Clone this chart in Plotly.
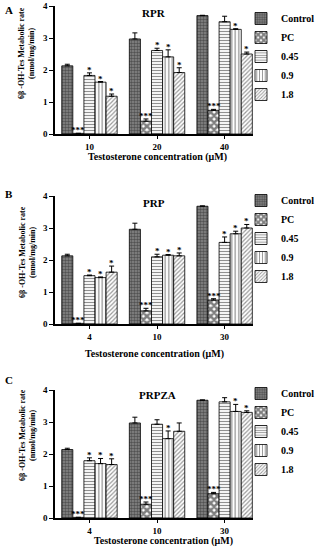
import plotly.graph_objects as go

# ---------------- data ----------------
series_names = ["Control", "PC", "0.45", "0.9", "1.8"]
panel_letters = ["A", "B", "C"]
panel_titles = ["RPR", "PRP", "PRPZA"]
conc_A = ["10", "20", "40"]
conc_B = ["4", "10", "30"]
conc_C = ["4", "10", "30"]

# Panel A (RPR)
A_control = [2.13, 2.97, 3.70]
A_pc = [0.02, 0.40, 0.74]
A_045 = [1.83, 2.61, 3.51]
A_09 = [1.62, 2.41, 3.27]
A_18 = [1.18, 1.92, 2.50]
A_control_err = [0.05, 0.19, 0.01]
A_pc_err = [0.00, 0.07, 0.03]
A_045_err = [0.08, 0.07, 0.17]
A_09_err = [0.02, 0.22, 0.02]
A_18_err = [0.07, 0.15, 0.06]
A_sig_control = ["", "", ""]
A_sig_pc = ["***", "***", "***"]
A_sig_045 = ["*", "*", ""]
A_sig_09 = ["*", "*", "*"]
A_sig_18 = ["*", "*", "*"]

# Panel B (PRP)
B_control = [2.13, 2.96, 3.68]
B_pc = [0.02, 0.41, 0.75]
B_045 = [1.51, 2.10, 2.55]
B_09 = [1.45, 2.15, 2.82]
B_18 = [1.62, 2.13, 3.00]
B_control_err = [0.05, 0.19, 0.01]
B_pc_err = [0.00, 0.08, 0.04]
B_045_err = [0.02, 0.08, 0.17]
B_09_err = [0.02, 0.02, 0.08]
B_18_err = [0.19, 0.09, 0.11]
B_sig_control = ["", "", ""]
B_sig_pc = ["***", "***", "***"]
B_sig_045 = ["*", "*", "*"]
B_sig_09 = ["*", "*", "*"]
B_sig_18 = ["*", "*", "*"]

# Panel C (PRPZA)
C_control = [2.14, 2.97, 3.68]
C_pc = [0.02, 0.43, 0.76]
C_045 = [1.79, 2.93, 3.63]
C_09 = [1.70, 2.48, 3.33]
C_18 = [1.67, 2.71, 3.30]
C_control_err = [0.04, 0.18, 0.01]
C_pc_err = [0.00, 0.07, 0.04]
C_045_err = [0.09, 0.14, 0.13]
C_09_err = [0.16, 0.24, 0.22]
C_18_err = [0.18, 0.26, 0.05]
C_sig_control = ["", "", ""]
C_sig_pc = ["***", "***", "***"]
C_sig_045 = ["*", "", ""]
C_sig_09 = ["*", "*", "*"]
C_sig_18 = ["*", "", "*"]

y_ticks = [0, 1, 2, 3, 4]
y_title = "6β -OH-Tes Metabolic rate<br>(nmol/mg/min)"
x_title = "Testosterone concentration (μM)"

panels = [
    dict(conc=conc_A,
         vals=[A_control, A_pc, A_045, A_09, A_18],
         errs=[A_control_err, A_pc_err, A_045_err, A_09_err, A_18_err],
         sigs=[A_sig_control, A_sig_pc, A_sig_045, A_sig_09, A_sig_18]),
    dict(conc=conc_B,
         vals=[B_control, B_pc, B_045, B_09, B_18],
         errs=[B_control_err, B_pc_err, B_045_err, B_09_err, B_18_err],
         sigs=[B_sig_control, B_sig_pc, B_sig_045, B_sig_09, B_sig_18]),
    dict(conc=conc_C,
         vals=[C_control, C_pc, C_045, C_09, C_18],
         errs=[C_control_err, C_pc_err, C_045_err, C_09_err, C_18_err],
         sigs=[C_sig_control, C_sig_pc, C_sig_045, C_sig_09, C_sig_18]),
]

# ---------------- styling / layout ----------------
W, H = 320, 550
FONT = "Liberation Serif"
plot_left, plot_right = 55, 253
panel_px = [(6, 134), (196, 324), (390, 518)]          # (top of y=4, y=0) in px
ytitle_center = [53, 252, 435]
xtitle_center = [(157, 157), (154, 354), (163, 541)]
title_center = [(154, 13), (154, 203), (157, 395)]
letter_pos = [(9, 10), (9, 194), (9, 380)]
legend_top = [4, 186, 379]
BARGAP = 0.18
XRANGE = [-0.51, 2.42]

patterns = [
    dict(shape=".", fgcolor="#1a1a1a", bgcolor="#8a8a8a", size=3, solidity=0.55),
    dict(shape="x", fgcolor="black", bgcolor="white", size=5, solidity=0.75),
    dict(shape="-", fgcolor="#222", bgcolor="white", size=3, solidity=0.4),
    dict(shape="|", fgcolor="#222", bgcolor="white", size=3.5, solidity=0.35),
    dict(shape="/", fgcolor="#333", bgcolor="white", size=3, solidity=0.4),
]

def py(px):
    return 1 - px / H

fig = go.Figure()
annotations = []
nser = len(series_names)
bar_w = (1 - BARGAP) / nser

for p, panel in enumerate(panels):
    sfx = "" if p == 0 else str(p + 1)
    xa, ya = "x" + sfx, "y" + sfx
    leg = "legend" + sfx
    xpos = list(range(len(panel["conc"])))
    for k, name in enumerate(series_names):
        fig.add_trace(go.Bar(
            x=xpos, y=panel["vals"][k], name=name,
            xaxis=xa, yaxis=ya, legend=leg,
            marker=dict(color="white", pattern=patterns[k],
                        line=dict(color="black", width=0.8)),
            error_y=dict(type="data", symmetric=False,
                         array=panel["errs"][k],
                         arrayminus=[0] * len(xpos),
                         color="black", thickness=1, width=2.5),
        ))
        for i, s in enumerate(panel["sigs"][k]):
            if s:
                annotations.append(dict(
                    x=xpos[i] + (k - (nser - 1) / 2) * bar_w,
                    y=panel["vals"][k][i] + panel["errs"][k][i],
                    xref=xa, yref=ya, text=s, showarrow=False,
                    xanchor="center", yanchor="bottom", yshift=-4,
                    font=dict(family=FONT, size=9, color="black", weight="bold"),
                ))
    top, bot = panel_px[p]
    fig.layout["xaxis" + sfx] = dict(
        domain=[plot_left / W, plot_right / W], anchor=ya, automargin=False,
        range=XRANGE, tickmode="array", tickvals=xpos, ticktext=panel["conc"],
        showline=True, linecolor="black", linewidth=1.5, showgrid=False,
        zeroline=False, ticks="outside", ticklen=3, tickwidth=1.2,
        tickcolor="black",
        tickfont=dict(family=FONT, size=9, color="black", weight="bold"),
    )
    fig.layout["yaxis" + sfx] = dict(
        domain=[py(bot), py(top)], anchor=xa, range=[0, 4], automargin=False,
        tickmode="array", tickvals=y_ticks,
        showline=True, linecolor="black", linewidth=1.5, showgrid=False,
        zeroline=False, ticks="outside", ticklen=4, tickwidth=1.2,
        tickcolor="black",
        tickfont=dict(family=FONT, size=9, color="black", weight="bold"),
    )
    fig.layout[leg] = dict(
        x=1, xanchor="right", y=py(legend_top[p]), yanchor="top",
        bgcolor="rgba(0,0,0,0)", itemwidth=30, tracegroupgap=0,
        font=dict(family=FONT, size=10, color="black", weight="bold"),
    )
    # panel letter
    annotations.append(dict(
        x=letter_pos[p][0] / W, y=py(letter_pos[p][1]), xref="paper", yref="paper",
        text=panel_letters[p], showarrow=False, xanchor="center", yanchor="middle",
        font=dict(family=FONT, size=11, color="black", weight="bold")))
    # panel title
    annotations.append(dict(
        x=title_center[p][0] / W, y=py(title_center[p][1]), xref="paper", yref="paper",
        text=panel_titles[p], showarrow=False, xanchor="center", yanchor="middle",
        font=dict(family=FONT, size=11, color="black", weight="bold")))
    # y title
    annotations.append(dict(
        x=27 / W, y=py(ytitle_center[p]), xref="paper", yref="paper",
        text=y_title, showarrow=False, textangle=-90,
        xanchor="center", yanchor="middle",
        font=dict(family=FONT, size=8, color="black", weight="bold")))
    # x title
    annotations.append(dict(
        x=xtitle_center[p][0] / W, y=py(xtitle_center[p][1]), xref="paper", yref="paper",
        text=x_title, showarrow=False, xanchor="center", yanchor="middle",
        font=dict(family=FONT, size=10, color="black", weight="bold")))

fig.update_layout(
    width=W, height=H, margin=dict(l=0, r=0, t=0, b=0, autoexpand=False),
    barmode="group", bargap=BARGAP, bargroupgap=0,
    paper_bgcolor="white", plot_bgcolor="white",
    annotations=annotations,
)

fig.write_html("out.html", config={"displayModeBar": False},
               post_script="document.body.style.margin='0px';")
